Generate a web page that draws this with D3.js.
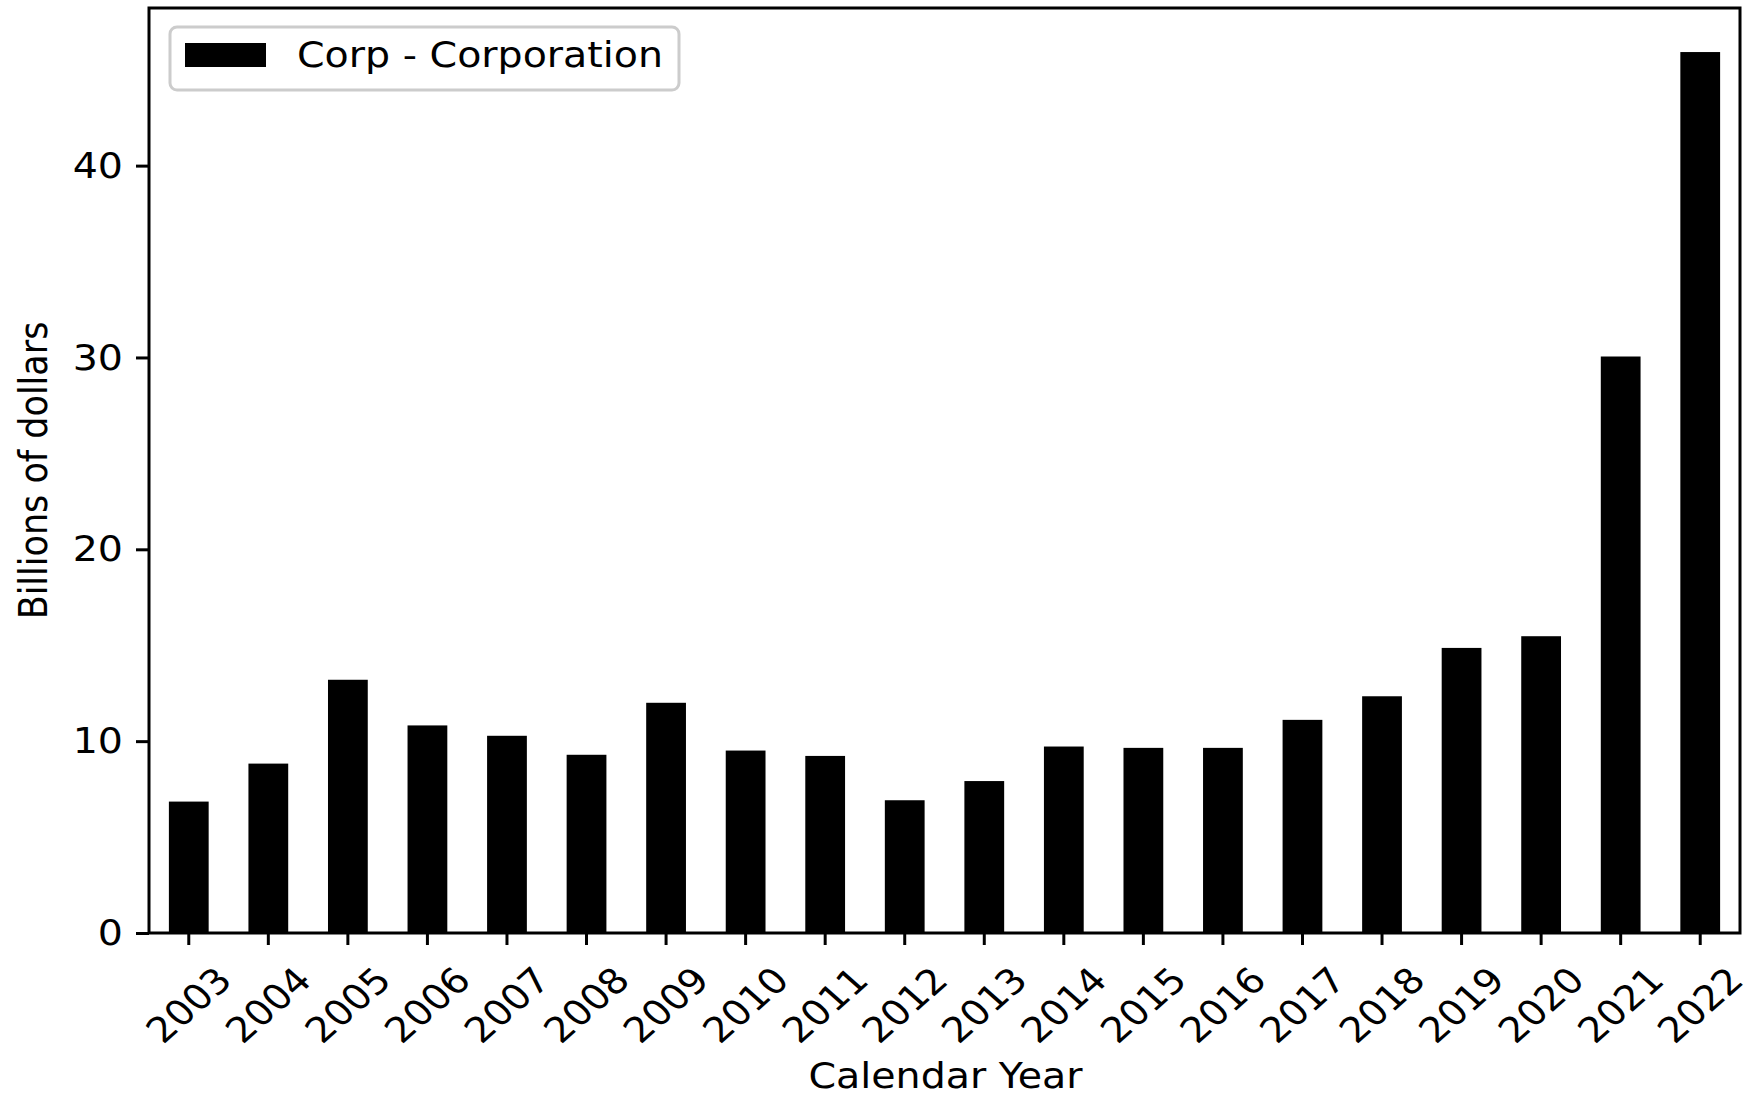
<!DOCTYPE html>
<html>
<head>
<meta charset="utf-8">
<script src="https://cdn.jsdelivr.net/npm/d3@7"></script>
<style>
  html, body { margin: 0; padding: 0; background: #ffffff; }
  svg { display: block; font-family: "DejaVu Sans", sans-serif; }
</style>
</head>
<body>
<svg id="chart" width="1756" height="1096"></svg>
<script>
// ---- data ----
const categories = ["2003","2004","2005","2006","2007","2008","2009","2010","2011","2012",
                    "2013","2014","2015","2016","2017","2018","2019","2020","2021","2022"];
const corpValues = [6.85, 8.83, 13.2, 10.82, 10.28, 9.29, 12.0, 9.51, 9.23, 6.92,
                    7.92, 9.72, 9.65, 9.65, 11.11, 12.34, 14.86, 15.47, 30.05, 45.92];
const yTicks = [0, 10, 20, 30, 40];
const seriesName = "Corp - Corporation";
const xTitle = "Calendar Year";
const yTitle = "Billions of dollars";

// ---- layout ----
const W = 1756, H = 1096;
const plot = { left: 149, right: 1740, top: 8, bottom: 933 };
const SX = 1.13;            // horizontal stretch of the reference image
const tickFont = 35, labelFont = 35;

const svg = d3.select("#chart");

const x = d3.scaleBand()
  .domain(categories)
  .range([plot.left, plot.right])
  .paddingInner(0.5)
  .paddingOuter(0.25);

const yMax = d3.max(corpValues) * 1.05;
const y = d3.scaleLinear().domain([0, yMax]).range([plot.bottom, plot.top]);

// bars
svg.append("g").selectAll("rect")
  .data(corpValues)
  .join("rect")
  .attr("x", (d, i) => x(categories[i]))
  .attr("width", x.bandwidth())
  .attr("y", d => y(d))
  .attr("height", d => y(0) - y(d))
  .attr("fill", "#000000");

// y axis ticks
const yAxis = d3.axisLeft(y).tickValues(yTicks).tickSize(13).tickFormat("");
const gy = svg.append("g").attr("transform", `translate(${plot.left},0)`).call(yAxis);
gy.select(".domain").remove();
gy.selectAll(".tick line").attr("stroke", "#000").attr("stroke-width", 3);

svg.append("g").selectAll("text")
  .data(yTicks)
  .join("text")
  .attr("transform", d => `translate(${plot.left - 26},${y(d)}) scale(${SX},1)`)
  .attr("text-anchor", "end")
  .attr("dominant-baseline", "central")
  .attr("font-size", tickFont)
  .attr("fill", "#000")
  .text(d => d);

// x axis ticks
const xAxis = d3.axisBottom(x).tickSize(12).tickFormat("");
const gx = svg.append("g").attr("transform", `translate(0,${plot.bottom})`).call(xAxis);
gx.select(".domain").remove();
gx.selectAll(".tick line").attr("stroke", "#000").attr("stroke-width", 3);

svg.append("g").selectAll("text")
  .data(categories)
  .join("text")
  .attr("transform", d => `translate(${x(d) + x.bandwidth() / 2},${plot.bottom + 72}) scale(${SX},1) rotate(-45)`)
  .attr("text-anchor", "middle")
  .attr("dominant-baseline", "central")
  .attr("font-size", tickFont)
  .attr("fill", "#000")
  .text(d => d);

// frame (spines)
svg.append("rect")
  .attr("x", plot.left)
  .attr("y", plot.top)
  .attr("width", plot.right - plot.left)
  .attr("height", plot.bottom - plot.top)
  .attr("fill", "none")
  .attr("stroke", "#000")
  .attr("stroke-width", 3);

// axis titles
svg.append("text")
  .attr("transform", `translate(${(plot.left + plot.right) / 2 + 1},1088) scale(${SX},1)`)
  .attr("text-anchor", "middle")
  .attr("font-size", labelFont)
  .attr("fill", "#000")
  .text(xTitle);

svg.append("text")
  .attr("transform", `translate(47,${(plot.top + plot.bottom) / 2}) scale(${SX},1) rotate(-90)`)
  .attr("text-anchor", "middle")
  .attr("font-size", labelFont)
  .attr("fill", "#000")
  .text(yTitle);

// legend
const lg = svg.append("g");
lg.append("rect")
  .attr("x", 170).attr("y", 27)
  .attr("width", 509).attr("height", 63)
  .attr("rx", 7).attr("ry", 7)
  .attr("fill", "#ffffff").attr("fill-opacity", 0.8)
  .attr("stroke", "#cccccc").attr("stroke-width", 3);
lg.append("rect")
  .attr("x", 185).attr("y", 43)
  .attr("width", 81).attr("height", 24)
  .attr("fill", "#000000");
lg.append("text")
  .attr("transform", `translate(297,67) scale(${SX},1)`)
  .attr("font-size", labelFont)
  .attr("fill", "#000")
  .text(seriesName);
</script>
</body>
</html>
